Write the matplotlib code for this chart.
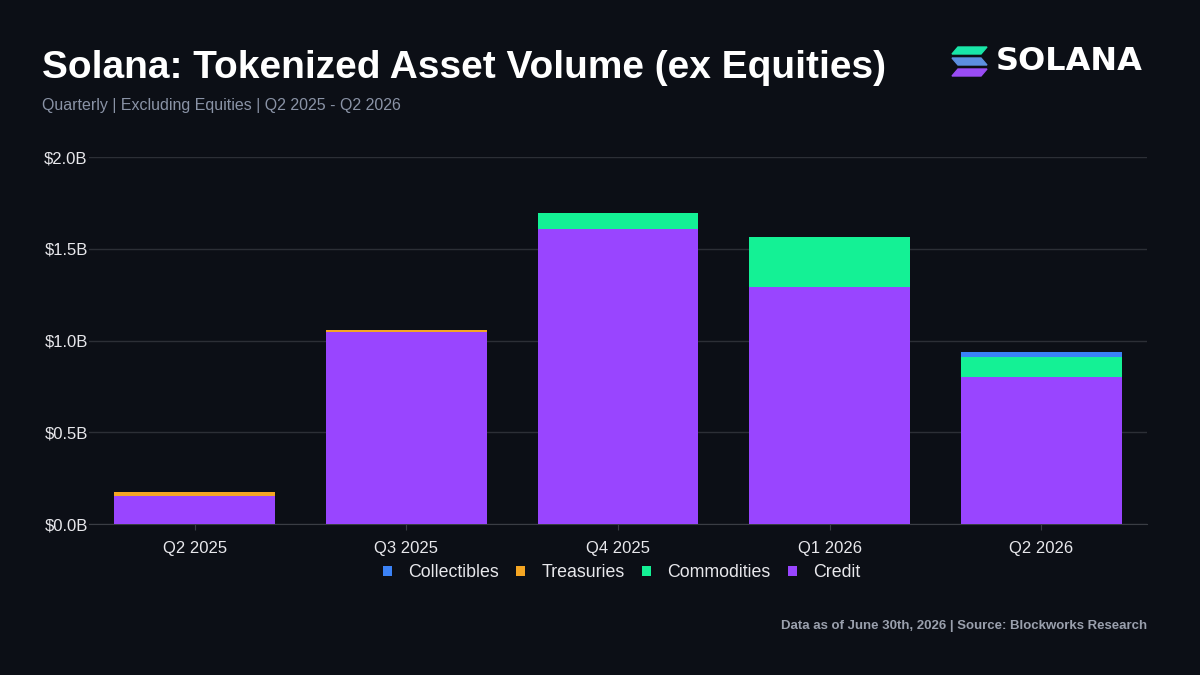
import matplotlib
matplotlib.use("Agg")
import matplotlib.pyplot as plt
from matplotlib.patches import Polygon
import numpy as np

plt.rcParams['font.family'] = ['Liberation Sans', 'DejaVu Sans']

quarters = ['Q2 2025', 'Q3 2025', 'Q4 2025', 'Q1 2026', 'Q2 2026']
credit = [0.153, 1.045, 1.607, 1.290, 0.800]
commodities = [0.000, 0.004, 0.088, 0.274, 0.110]
treasuries = [0.020, 0.006, 0.000, 0.000, 0.002]
collectibles = [0.000, 0.000, 0.000, 0.000, 0.025]
yticks = [0, 0.5, 1.0, 1.5, 2.0]
ytick_labels = ['$0.0B', '$0.5B', '$1.0B', '$1.5B', '$2.0B']

bg = '#0c0f16'
c_credit = '#9945ff'
c_comm = '#14f195'
c_treas = '#f5a623'
c_coll = '#3b82f6'

fig = plt.figure(figsize=(12, 6.75), dpi=100, facecolor=bg)
ax = fig.add_axes([0.0742, 0.2237, 0.8817, 0.5437], facecolor=bg)

x = np.arange(len(quarters))
w = 0.76
b1 = np.array(credit)
b2 = b1 + np.array(commodities)
b3 = b2 + np.array(treasuries)
ax.bar(x, credit, w, color=c_credit, label='Credit', zorder=3)
ax.bar(x, commodities, w, bottom=b1, color=c_comm, label='Commodities', zorder=3)
ax.bar(x, treasuries, w, bottom=b2, color=c_treas, label='Treasuries', zorder=3)
ax.bar(x, collectibles, w, bottom=b3, color=c_coll, label='Collectibles', zorder=3)

ax.set_xlim(-0.5, len(quarters) - 0.5)
ax.set_ylim(0, 2.0)
ax.set_yticks(yticks)
ax.set_yticklabels(ytick_labels)
ax.set_xticks(x)
ax.set_xticklabels(quarters)
ax.tick_params(axis='y', length=0, colors='#e8e8ec', labelsize=12, pad=1)
ax.tick_params(axis='x', length=4, color='#3a3d44', colors='#e8e8ec', labelsize=12, pad=8)
ax.grid(axis='y', color='#2c2f36', linewidth=1, zorder=0)
for s in ['top', 'right', 'left']:
    ax.spines[s].set_visible(False)
ax.spines['bottom'].set_color('#3a3d44')

h, l = ax.get_legend_handles_labels()
order = [3, 2, 1, 0]
leg = fig.legend([h[i] for i in order], [l[i] for i in order], loc='center',
                 bbox_to_anchor=(0.518, 0.152), ncol=4, frameon=False,
                 fontsize=12.8, handlelength=0.5, handleheight=0.5,
                 handletextpad=0.9, columnspacing=1.0)
for t in leg.get_texts():
    t.set_color('#e8e8ec')

fig.text(0.035, 0.9, 'Solana: Tokenized Asset Volume (ex Equities)', color='white',
         fontsize=28, fontweight='bold', va='center')
fig.text(0.035, 0.843, 'Quarterly | Excluding Equities | Q2 2025 - Q2 2026',
         color='#8a93a6', fontsize=11.5, va='center')
fig.text(0.956, 0.072, 'Data as of June 30th, 2026 | Source: Blockworks Research',
         color='#9aa0ad', fontsize=9.5, fontweight='bold', ha='right', va='center')

# logo
def px(xp, yp):
    return (xp / 1200, 1 - yp / 675)

bars = [
    ([(958, 47), (987, 47), (981, 54), (952, 54)], '#19e6a8'),
    ([(952, 58), (981, 58), (987, 65), (958, 65)], '#5c8fe0'),
    ([(958, 69), (987, 69), (981, 76), (952, 76)], '#9a4cf5'),
]
for pts, col in bars:
    fig.patches.append(Polygon([px(*p) for p in pts], closed=True, color=col,
                               transform=fig.transFigure, figure=fig))
fig.text(996 / 1200, 1 - 62 / 675, 'SOLANA', color='white', fontsize=23,
         fontweight='bold', family='DejaVu Sans', va='center', ha='left')

fig.savefig('out.png', facecolor=bg)
